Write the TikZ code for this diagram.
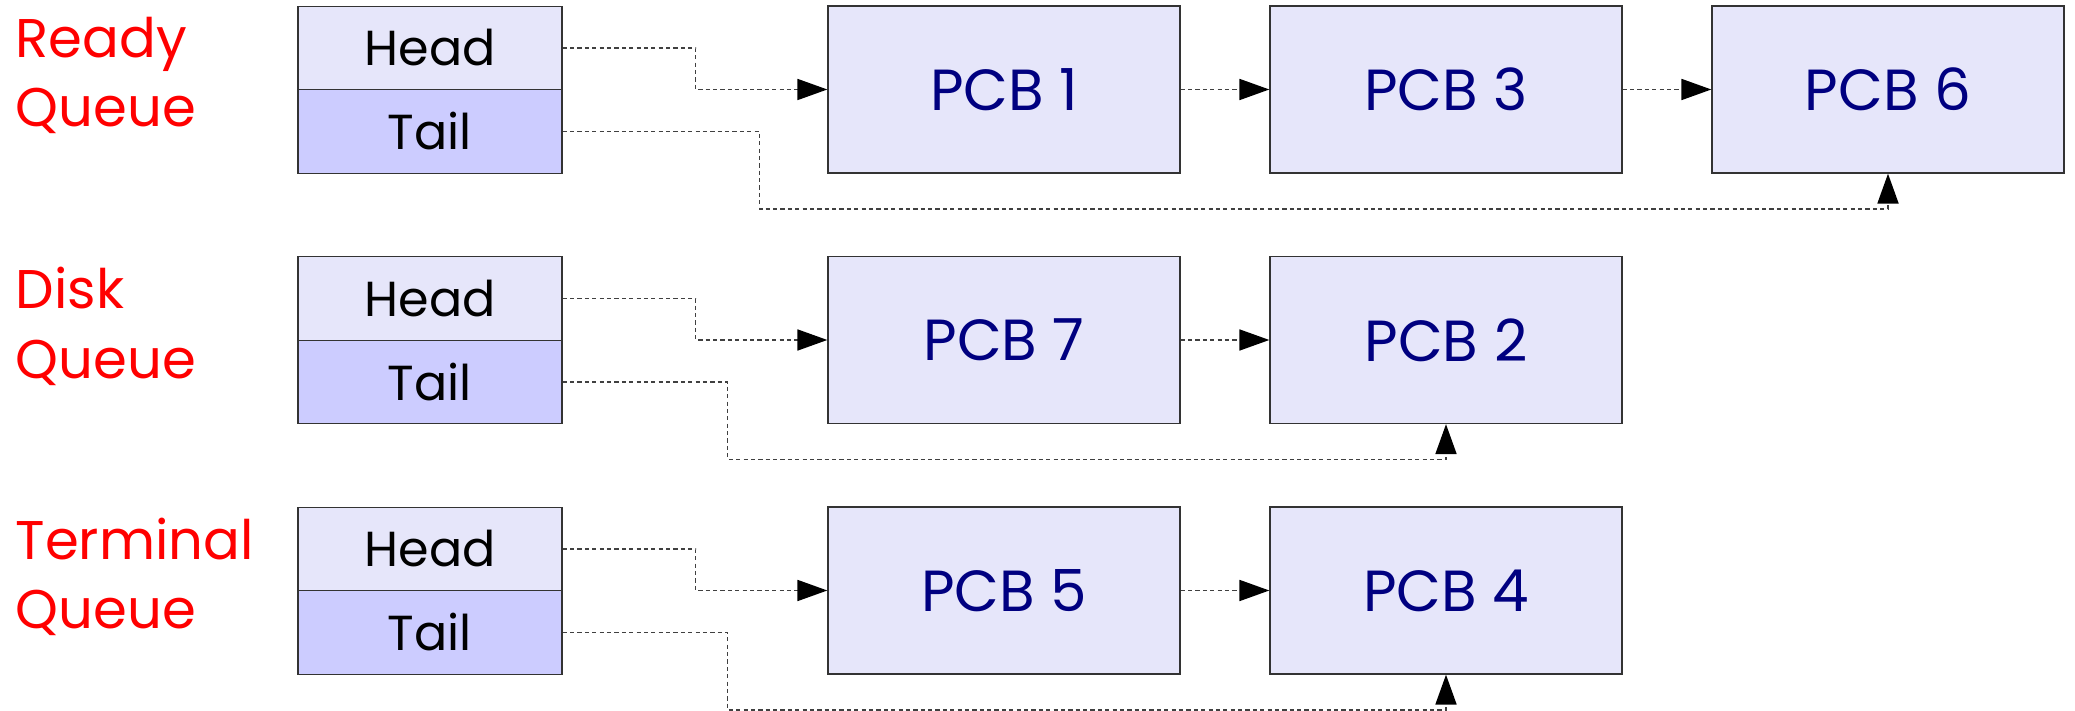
\documentclass[tikz,border=0pt]{standalone}
\usepackage{fontspec}
\setmainfont{Poppins}
\usetikzlibrary{positioning,arrows.meta}
\definecolor{pcbfill}{HTML}{E6E6FA}
\definecolor{tailfill}{HTML}{CCCCFF}
\definecolor{pcbtext}{HTML}{000080}
\tikzset{>={Triangle[length=8.5pt,width=6pt,black]}}
\tikzset{
  headbox/.style={draw=black!80, fill=pcbfill, minimum width=2.64cm, minimum height=0.835cm, inner sep=0pt, font=\fontsize{14}{16}\selectfont},
  tailbox/.style={headbox, fill=tailfill},
  pcbbox/.style={draw=black!80, fill=pcbfill, minimum width=3.52cm, minimum height=1.67cm, text=pcbtext, font=\fontsize{16.5}{18}\selectfont},
  qlabel/.style={anchor=north west, align=left, text=red, inner sep=0pt, font=\fontsize{15.5}{19.8}\selectfont},
  link/.style={->, draw=black!75, line width=0.4pt, dash pattern=on 1.2pt off 0.9pt}
}

\begin{document}
\begin{tikzpicture}
      \useasboundingbox (0,0) rectangle (20.75,-7.11);
      % ready queue
      \node[headbox] (h1) at (4.30,-0.48) {Head};
      \node[tailbox, below of=h1, node distance=0.835cm] (t1) {Tail};
      \node[pcbbox] (p1) at (10.04,-0.895) {PCB 1};
      \node[pcbbox, right of=p1, node distance=4.42cm] (p3) {PCB 3};
      \node[pcbbox, right of=p3, node distance=4.42cm] (p6) {PCB 6};
      \node[qlabel] (l1) at (0.15,-0.16) {Ready\\Queue};
      % disk queue
      \node[headbox, below of=h1, node distance=2.505cm] (h2) {Head};
      \node[tailbox, below of=h2, node distance=0.835cm] (t2) {Tail};
      \node[pcbbox, below of=p1, node distance=2.505cm] (p7) {PCB 7};
      \node[pcbbox, right of=p7, node distance=4.42cm] (p2) {PCB 2};
      \node[qlabel] (l2) at (0.15,-2.665) {Disk\\Queue};
      % terminal queue
      \node[headbox, below of=h2, node distance=2.505cm] (h3) {Head};
      \node[tailbox, below of=h3, node distance=0.835cm] (t3) {Tail};
      \node[pcbbox, below of=p7, node distance=2.505cm] (p5) {PCB 5};
      \node[pcbbox, right of=p5, node distance=4.42cm] (p4) {PCB 4};
      \node[qlabel] (l3) at (0.15,-5.17) {Terminal\\Queue};
      % links
      \draw[link] (h1.east) -- ++(1.33,0) |- (p1.west);
      \draw[link] (p1) -- (p3);
      \draw[link] (p3) -- (p6);
      \draw[link] (t1.east) -| ++(1.97,-0.775) -| (p6.south);
      \draw[link] (h2.east) -- ++(1.33,0) |- (p7.west);
      \draw[link] (p7) -- (p2);
      \draw[link] (t2.east) -| ++(1.65,-0.775) -| (p2.south);
      \draw[link] (h3.east) -- ++(1.33,0) |- (p5.west);
      \draw[link] (p5) -- (p4);
      \draw[link] (t3.east) -| ++(1.65,-0.775) -| (p4.south);
    \end{tikzpicture}
\end{document}
